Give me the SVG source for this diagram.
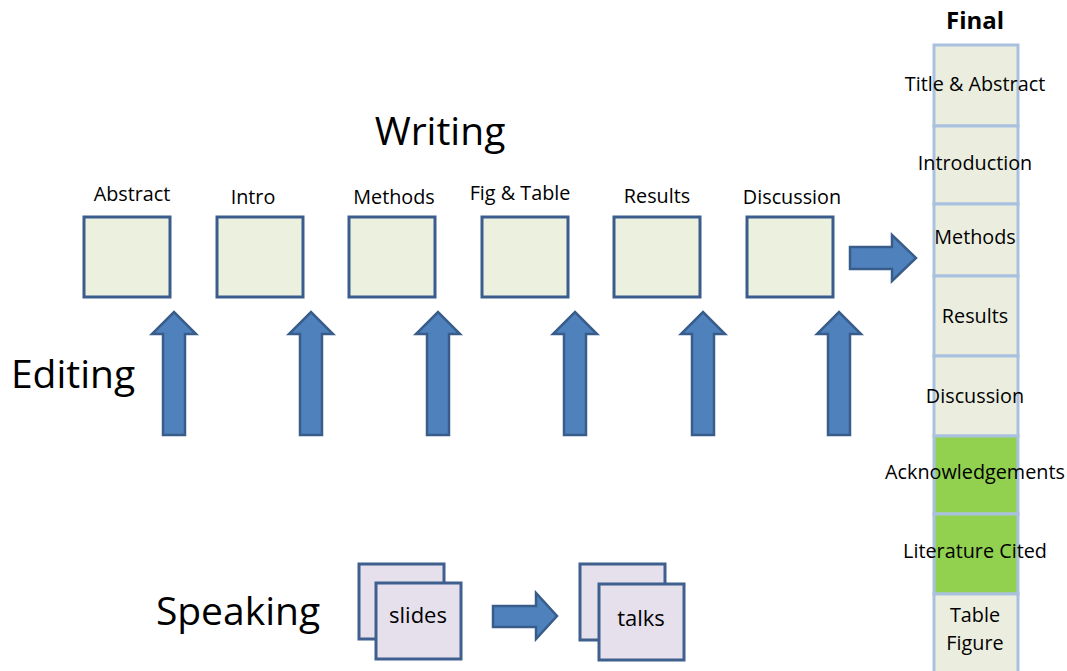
<svg xmlns="http://www.w3.org/2000/svg" width="1067" height="671" viewBox="0 0 1067 671">
<style>
text{font-family:"Open Sans","Liberation Sans",sans-serif;fill:#000;text-anchor:middle}
.lbl{font-size:19.8px}
.big{font-size:39px}
.sl{font-size:22px}
.box{fill:#ebf0df;stroke:#3b5d8e;stroke-width:3}
.cell{fill:#ebeedf;stroke:#a9c1df;stroke-width:3}
.gcell{fill:#92d050;stroke:#a9c1df;stroke-width:3}
.slide{fill:#e5e0ec;stroke:#3f5f8f;stroke-width:3}
.arr{fill:#4f81bd;stroke:#385d8a;stroke-width:2.5;stroke-linejoin:miter}
</style>
<rect width="1067" height="671" fill="#fff"/>
<text class="big" x="440" y="145">Writing</text>
<text class="big" x="73" y="388">Editing</text>
<text class="big" x="238" y="625">Speaking</text>

<g id="abstract"><rect class="box" x="84" y="217" width="86" height="80"/><text class="lbl" x="132" y="201">Abstract</text></g>
<g id="intro"><rect class="box" x="217" y="217" width="86" height="80"/><text class="lbl" x="253" y="204">Intro</text></g>
<g id="methods"><rect class="box" x="349" y="217" width="86" height="80"/><text class="lbl" x="394" y="204">Methods</text></g>
<g id="figtable"><rect class="box" x="482" y="217" width="86" height="80"/><text class="lbl" x="520" y="200">Fig &amp; Table</text></g>
<g id="results"><rect class="box" x="614" y="217" width="86" height="80"/><text class="lbl" x="657" y="203">Results</text></g>
<g id="discussion"><rect class="box" x="747" y="217" width="86" height="80"/><text class="lbl" x="792" y="204">Discussion</text></g>

<g id="final">
<text x="975" y="29" style="font-size:24px;font-weight:bold">Final</text>
<rect class="cell" x="934" y="45" width="84" height="81"/>
<rect class="cell" x="934" y="126" width="84" height="78"/>
<rect class="cell" x="934" y="204" width="84" height="72"/>
<rect class="cell" x="934" y="276" width="84" height="80"/>
<rect class="cell" x="934" y="356" width="84" height="80"/>
<rect class="gcell" x="934" y="436" width="84" height="78"/>
<rect class="gcell" x="934" y="514" width="84" height="80"/>
<rect class="cell" x="934" y="594" width="84" height="82"/>
<text class="lbl" x="975" y="91">Title &amp; Abstract</text>
<text class="lbl" x="975" y="170">Introduction</text>
<text class="lbl" x="975" y="244">Methods</text>
<text class="lbl" x="975" y="323">Results</text>
<text class="lbl" x="975" y="403">Discussion</text>
<text class="lbl" x="975" y="479">Acknowledgements</text>
<text class="lbl" x="975" y="558">Literature Cited</text>
<text class="lbl" x="975" y="622">Table</text>
<text class="lbl" x="975" y="650">Figure</text>
</g>

<g id="slides">
<rect class="slide" x="359" y="564" width="85" height="75"/>
<rect class="slide" x="376" y="583" width="85" height="76"/>
<text class="sl" x="418" y="623">slides</text>
</g>
<g id="talks">
<rect class="slide" x="580" y="564" width="85" height="76"/>
<rect class="slide" x="599" y="584" width="85" height="76"/>
<text class="sl" x="641" y="626">talks</text>
</g>

<g id="connectors">
<path class="arr" d="M163,435 V334 H152 L174,312 L196,334 H185 V435 Z"/>
<path class="arr" d="M300,435 V334 H289 L311,312 L333,334 H322 V435 Z"/>
<path class="arr" d="M427,435 V334 H416 L438,312 L460,334 H449 V435 Z"/>
<path class="arr" d="M564,435 V334 H553 L575,312 L597,334 H586 V435 Z"/>
<path class="arr" d="M692,435 V334 H681 L703,312 L725,334 H714 V435 Z"/>
<path class="arr" d="M828,435 V334 H817 L839,312 L861,334 H850 V435 Z"/>
<path class="arr" d="M850,247 H892 V235 L916,258 L892,281 V269 H850 Z"/>
<path class="arr" d="M493,606 H536 V593 L557,616 L536,639 V627 H493 Z"/>
</g>
</svg>
